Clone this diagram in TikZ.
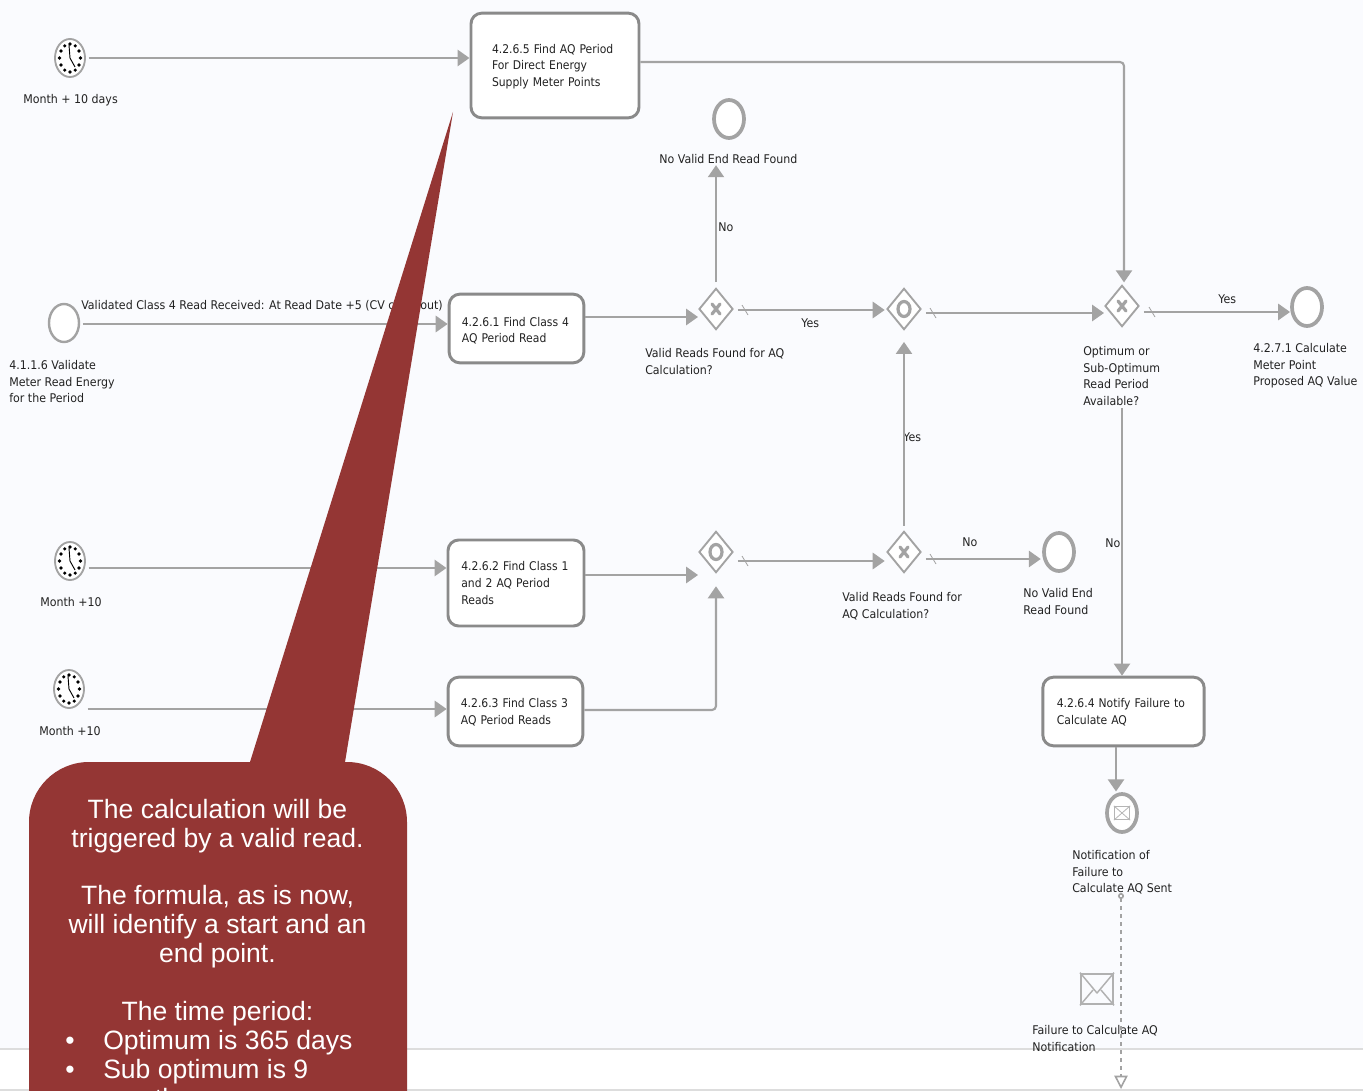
\documentclass[tikz,border=0pt]{standalone}
\usepackage{fontspec}
\usetikzlibrary{arrows.meta,shapes.geometric}
\setmainfont{Liberation Sans}
\newfontfamily\diagfont[FakeStretch=0.92]{DejaVu Sans}
\newfontfamily\taskfont[FakeStretch=0.90]{DejaVu Sans}
\definecolor{pagebg}{HTML}{FAFBFE}
\definecolor{flowgray}{HTML}{A3A3A3}
\definecolor{taskgray}{HTML}{8A8A8A}
\definecolor{rulegray}{HTML}{DDDDDD}
\definecolor{callred}{HTML}{943634}
\definecolor{labelink}{HTML}{222222}
\tikzset{
  x=0.75pt,y=-0.75pt,
  flow/.style={draw=flowgray,line width=2.2pt,-{Triangle[length=9pt,width=12pt]}},
  vflow/.style={flow,line width=1.6pt},
  tickline/.style={draw=flowgray,line width=0.6pt},
  task/.style={draw=taskgray,line width=2.2pt,fill=white,rounded corners=8pt,rectangle,
    font=\taskfont\fontsize{9}{12.5}\selectfont,text=labelink,align=left,anchor=center,inner ysep=0pt},
  gateway/.style={diamond,draw=flowgray,line width=1.4pt,fill=white,inner sep=0pt,minimum width=25.5pt,minimum height=31pt,aspect=0.85},
  startev/.style={ellipse,draw=flowgray,line width=1.8pt,fill=white,inner sep=0pt,minimum width=22.5pt,minimum height=28.5pt},
  endev/.style={startev,line width=2.8pt},
  clockev/.style={startev,line width=1.4pt},
  lab/.style={anchor=north west,inner sep=0pt,align=left,text=labelink,
    font=\diagfont\fontsize{9}{12.5}\selectfont,execute at begin node=\strut},
  gatemark/.style={draw=flowgray,line width=2.4pt,line cap=round},
  calloutnote/.style={text=white,inner sep=0pt,font=\fontsize{19.9}{21.6}\selectfont,execute at begin node=\strut},
}
\newcommand{\clockface}[1]{%
  \foreach \a in {0,30,...,330}{\fill[black] ([shift={({10.5*sin(\a)},{-14*cos(\a)})}]#1.center) circle[radius=1.4pt];}
  \draw[black,line width=0.7pt] ([shift={(-1,-13)}]#1.center) -- (#1.center) -- ([shift={(5,9)}]#1.center);
}
\newcommand{\crossmark}[1]{%
  \draw[gatemark] ([shift={(-4,-5)}]#1.center) -- ([shift={(4,5)}]#1.center);
  \draw[gatemark] ([shift={(-4,5)}]#1.center) -- ([shift={(4,-5)}]#1.center);
}
\newcommand{\ringmark}[1]{\draw[flowgray,line width=2.4pt] (#1.center) ellipse[x radius=6,y radius=7.5];}
\newcommand{\ticked}[2]{\coordinate (tk) at (#1,#2);\draw[tickline] ([shift={(-3,-5)}]tk) -- ([shift={(3,5)}]tk);}
\begin{document}
\begin{tikzpicture}
\useasboundingbox (0,0) rectangle (1363,1091);
\fill[white] (0,0) rectangle (1363,1091);
\fill[pagebg] (0,0) rectangle (1363,1049);
\draw[rulegray,line width=1.5pt] (0,1049) -- (1363,1049);
\draw[rulegray,line width=1.5pt] (0,1090) -- (1363,1090);

% level guides
\foreach \v in {58,310,313,317,324,312,559,561,568,575,709,710}{\coordinate (y\v) at (0,\v);}
\foreach \u in {1116,1124}{\coordinate (x\u) at (\u,0);}
\coordinate (t5out) at (0,62);

% tasks
\node[task,minimum width=126pt,minimum height=78.5pt,inner xsep=15.75pt,text width=94.5pt] (T5) at (555,65.5) {\rule{0pt}{8.4pt}4.2.6.5 Find AQ Period\\For Direct Energy\\Supply Meter Points};
\node[task,minimum width=101pt,minimum height=51.5pt,inner xsep=9.5pt,text width=82pt] (T1) at (516.5,328.5) {\rule{0pt}{10pt}4.2.6.1 Find Class 4\\AQ Period Read};
\node[task,minimum width=102pt,minimum height=64.5pt,inner xsep=10pt,text width=82pt] (T2) at (516,583) {4.2.6.2 Find Class 1\\and 2 AQ Period\\Reads};
\node[task,minimum width=101pt,minimum height=51.5pt,inner xsep=9.5pt,text width=82pt] (T3) at (515.5,711.5) {\rule{0pt}{8.4pt}4.2.6.3 Find Class 3\\AQ Period Reads};
\node[task,minimum width=121pt,minimum height=51.5pt,inner xsep=10.5pt,text width=100pt] (T4) at (1123.5,711.5) {\rule{0pt}{8.4pt}4.2.6.4 Notify Failure to\\Calculate AQ};

% events
\node[clockev] (c1) at (70,58) {};
\node[clockev] (c2) at (70,561) {};
\node[clockev] (c3) at (69,689) {};
\clockface{c1}\clockface{c2}\clockface{c3}
\node[startev] (s1) at (64,323) {};
\node[endev] (e1) at (729,119) {};
\node[endev] (e2) at (1059,552) {};
\node[endev] (e3) at (1307,307) {};
\node[endev] (e4) at (1122,813) {};
\node[draw=flowgray!80,line width=0.7pt,rectangle,fill=white,minimum width=11.5pt,minimum height=10pt,inner sep=0pt] (e4m) at (1122,813) {};
\draw[flowgray!80,line width=0.6pt] (e4m.north west) -- (e4m.center) -- (e4m.north east) (e4m.south west) -- (e4m.center) -- (e4m.south east);
\node[draw=flowgray!85,line width=1.5pt,rectangle,fill=pagebg,minimum width=24pt,minimum height=23pt,inner sep=0pt] (env) at (1097,989) {};
\draw[flowgray!85,line width=1.1pt,line join=round] (env.north west) -- ([shift={(0,4)}]env.center) -- (env.north east);
\draw[flowgray!85,line width=1.1pt] (env.south west) -- ([shift={(-4,1)}]env.center) ([shift={(4,1)}]env.center) -- (env.south east);

% gateways
\node[gateway] (G1) at (716,309) {}; \crossmark{G1}
\node[gateway] (G2) at (904,309) {}; \ringmark{G2}
\node[gateway] (G3) at (1122,306) {}; \crossmark{G3}
\node[gateway] (G4) at (716,552) {}; \ringmark{G4}
\node[gateway] (G5) at (904,552) {}; \crossmark{G5}

% labels
\node[lab] (l1) at (23,92) {Month + 10 days};
\node[lab] (l2) at (9,360) {4.1.1.6 Validate\\Meter Read Energy\\for the Period};
\node[lab] (l3) at (81,298) {Validated Class 4 Read Received: At Read Date +5 (CV close out)};
\node[lab] (l4) at (659,152) {No Valid End Read Found};
\node[lab] (l5) at (718,220) {No};
\node[lab] (l6) at (801,316) {Yes};
\node[lab] (l7) at (645,348) {Valid Reads Found for AQ\\Calculation?};
\node[lab] (l8) at (903,430) {Yes};
\node[lab] (l9) at (1083,346) {Optimum or\\Sub-Optimum\\Read Period\\Available?};
\node[lab] (l10) at (1218,292) {Yes};
\node[lab] (l11) at (1253,343) {4.2.7.1 Calculate\\Meter Point\\Proposed AQ Value};
\node[lab] (l12) at (962,535) {No};
\node[lab] (l13) at (842,592) {Valid Reads Found for\\AQ Calculation?};
\node[lab] (l14) at (1023,588) {No Valid End\\Read Found};
\node[lab] (l15) at (1105,536) {No};
\node[lab] (l16) at (40,595) {Month +10};
\node[lab] (l17) at (39,724) {Month +10};
\node[lab] (l18) at (1072,850) {Notification of\\Failure to\\Calculate AQ Sent};
\node[lab] (l19) at (1032,1025) {Failure to Calculate AQ\\Notification};

% connectors
\draw[flow,shorten <=2pt] (c1.east |- y58) -- (c1.east -| T5.west);
\draw[flow,shorten <=2pt] (s1.east |- y324) -- (T1.west |- y324);
\draw[flow] (T1.east |- y317) -- (G1.west |- y317);
\draw[vflow,shorten <=4pt,shorten >=-3pt] (G1.north) -- (G1.north |- l4.south);
\draw[flow,shorten <=3pt,shorten >=1pt] (G1.east |- y310) -- (G2.west |- y310);
\draw[flow,shorten <=3pt] (G2.east |- y313) -- (G3.west |- y313);
\draw[vflow,rounded corners=3pt,shorten >=1.5pt] (T5.east |- t5out) -- (x1124 |- t5out) -- (x1124 |- G3.north);
\draw[flow,shorten <=3pt] (G3.east |- y312) -- (e3.west |- y312);
\draw[vflow,shorten <=3.5pt,shorten >=8.5pt] (G5.north) -- (G2.south);
\draw[vflow,shorten <=-2pt] (G3.south |- l9.south) -- (G3.south |- T4.north);
\draw[flow] (T2.east |- y575) -- (G4.west |- y575);
\draw[vflow,rounded corners=3pt,shorten >=9.5pt] (T3.east |- y710) -- (G4.south |- y710) -- (G4.south);
\draw[flow,shorten <=3pt,shorten >=1pt] (G4.east |- y561) -- (G5.west |- y561);
\draw[flow,shorten <=3pt,shorten >=1pt] (G5.east |- y559) -- (e2.west |- y559);
\draw[flow,shorten <=2pt] (c2.east |- y568) -- (T2.west |- y568);
\draw[flow,shorten <=2pt] (c3.east |- y709) -- (T3.west |- y709);
\draw[vflow,shorten >=0.5pt] (x1116 |- T4.south) -- (x1116 |- e4.north);
\coordinate (mfrom) at (1121,893);
\coordinate (mto) at (1121,1089);
\draw[flowgray,line width=1.2pt,dashed,{Circle[open,length=4.5pt,fill=pagebg]}-{Triangle[open,length=10pt,width=10pt,fill=white]}] (mfrom) -- (mto);

% default-flow ticks
\ticked{745}{310}\ticked{933}{313}\ticked{1152}{312}\ticked{745}{561}\ticked{933}{559}

% callout
\begin{scope}
\clip (0,0) rectangle (1363,1091);
\fill[callred] (29,1160) -- (29,822) arc[start angle=180,end angle=90,radius=45pt]
  -- (250,762) -- (453,112) -- (345,762) -- (347,762)
  arc[start angle=90,end angle=0,radius=45pt] -- (407,1160) -- cycle;
\node[calloutnote,anchor=north,align=center] (n1) at (217.5,799) {The calculation will be\\triggered by a valid read.\\[21.6pt]The formula, as is now,\\will identify a start and an\\end point.\\[21.6pt]The time period:};
\node[calloutnote,anchor=north west,align=left] (n2) at (65,1030) {\makebox[28.5pt][l]{•}Optimum is 365 days\\\makebox[28.5pt][l]{•}Sub optimum is 9\\\hspace*{28.5pt}months};
\end{scope}
\end{tikzpicture}
\end{document}
